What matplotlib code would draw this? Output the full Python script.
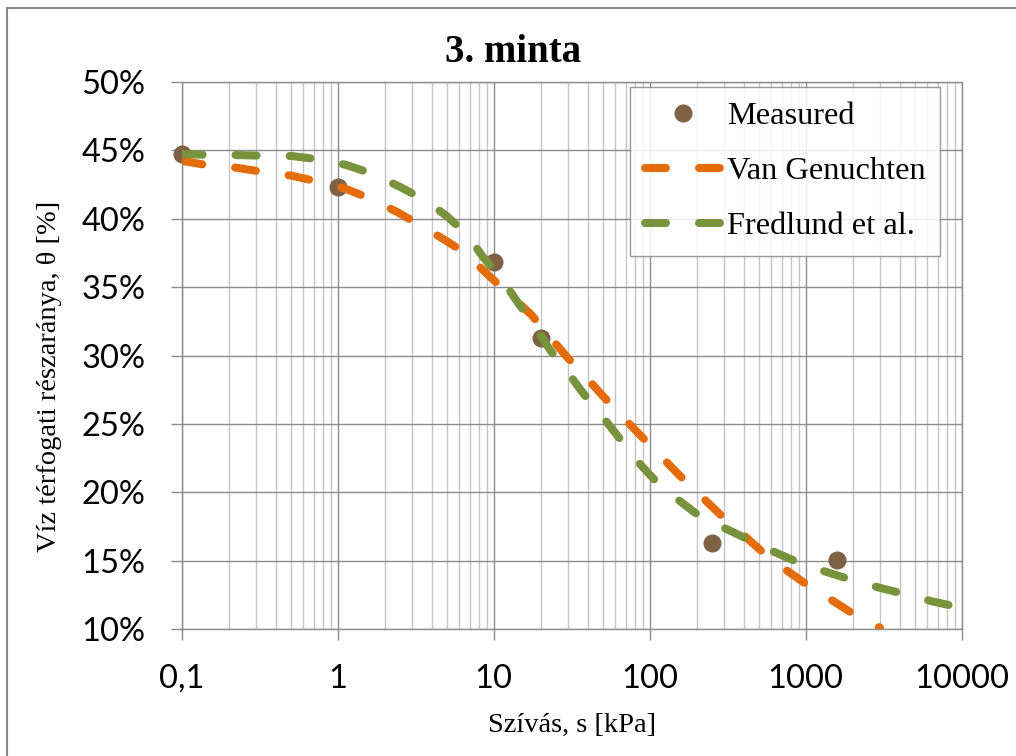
import matplotlib
matplotlib.use("Agg")
import matplotlib.pyplot as plt
from matplotlib.ticker import LogLocator, NullFormatter
from matplotlib.patches import Rectangle

# measured points
meas_s = [0.1, 1, 10, 20, 250, 1580]
meas_theta = [44.71, 42.34, 36.83, 31.27, 16.30, 15.08]

# Van Genuchten fit
vg_s = [0.1, 0.141, 0.225, 0.326, 0.507, 0.733, 1.11, 1.61, 2.39, 3.29, 4.88, 6.71,
        9.23, 12.4, 17.5, 21.9, 29.4, 37.5, 51.8, 66.2, 91, 116, 164, 210, 296, 389,
        548, 736, 1067, 1469, 2123, 2994]
vg_theta = [44.24, 43.95, 43.73, 43.44, 43.15, 42.74, 42.22, 41.48, 40.51, 39.61, 38.44,
            37.42, 35.88, 34.54, 32.96, 31.62, 29.91, 28.64, 26.86, 25.57, 23.94, 22.71,
            20.96, 19.79, 18.16, 16.99, 15.47, 14.37, 13.08, 12.11, 10.94, 10.09]

# Fredlund et al. fit
fr_s = [0.1, 0.141, 0.225, 0.333, 0.507, 0.75, 1.14, 1.69, 2.5, 3.53, 5.0, 6.71, 8.57,
        11.2, 14.4, 17.9, 23.0, 28.6, 37.5, 48, 63, 78.5, 108, 142, 205, 290, 428, 605,
        906, 1309, 1991, 2918, 4436, 6427, 10000]
fr_theta = [44.73, 44.68, 44.66, 44.61, 44.59, 44.35, 43.93, 43.27, 42.34, 41.44, 40.20,
            38.88, 37.18, 35.64, 33.81, 32.35, 30.39, 29.05, 27.23, 25.76, 24.05, 22.59,
            20.88, 19.71, 18.32, 17.47, 16.55, 15.72, 14.84, 14.23, 13.57, 13.04, 12.52,
            12.03, 11.54]

xticks = [0.1, 1, 10, 100, 1000, 10000]
xtick_labels = ["0,1", "1", "10", "100", "1000", "10000"]
yticks = [10, 15, 20, 25, 30, 35, 40, 45, 50]

SERIF = "Liberation Serif"
SANS = "Lato"
MAJ = "#8c8c8c"
MIN = "#c4c4c4"

fig = plt.figure(figsize=(10.16, 7.56), dpi=100)
ax = fig.add_axes([0.1788, 0.1680, 0.7678, 0.7235])

# chart border
fig.patches.append(Rectangle((7 / 1016, -0.01), 1.02, 1 - 8 / 756 + 0.01,
                             transform=fig.transFigure, fill=False,
                             edgecolor="#8a8a8a", lw=1.5))

lw = 5.8
ax.plot(meas_s, meas_theta, "o", color="#7f6245", ms=12, zorder=3, clip_on=False,
        label="Measured")
ax.plot(vg_s, vg_theta, color="#e46c0a", lw=lw, dashes=(2.6, 4.1),
        dash_capstyle="round", zorder=4, label="Van Genuchten")
ax.plot(fr_s, fr_theta, color="#77933c", lw=lw, dashes=(2.6, 4.1),
        dash_capstyle="round", zorder=4, label="Fredlund et al.")

ax.set_xscale("log")
ax.set_xlim(0.1, 10000)
ax.set_ylim(10, 50)
ax.set_xticks(xticks)
ax.set_xticklabels(xtick_labels)
ax.xaxis.set_minor_locator(LogLocator(base=10, subs=range(2, 10)))
ax.xaxis.set_minor_formatter(NullFormatter())
ax.set_yticks(yticks)
ax.set_yticklabels([f"{v}%" for v in yticks])

ax.grid(True, which="major", color=MAJ, lw=1.0, zorder=0)
ax.grid(True, which="minor", axis="x", color=MIN, lw=1.0, zorder=0)
ax.set_axisbelow(True)
for sp in ax.spines.values():
    sp.set_color(MAJ)
    sp.set_linewidth(1.0)

ax.tick_params(which="major", length=8, width=1.0, color=MAJ, labelsize=23.5)
ax.tick_params(axis="x", pad=17)
ax.tick_params(axis="y", pad=18)
ax.tick_params(which="minor", length=0)
for lab in ax.get_xticklabels() + ax.get_yticklabels():
    lab.set_family(SANS)

ax.set_xlabel("Szívás, s [kPa]", family=SERIF, fontsize=20.5)
ax.xaxis.set_label_coords(0.5, -0.153)
ax.set_ylabel("Víz térfogati részaránya, θ [%]", family=SERIF, fontsize=20.5)
ax.yaxis.set_label_coords(-0.153, 0.4625)

fig.text(513 / 1016, 1 - 52 / 756, "3. minta", ha="center", va="center",
         family=SERIF, fontsize=28, fontweight="bold")

leg = ax.legend(loc="upper left", bbox_to_anchor=(0.575, 0.991),
                prop={"family": SERIF, "size": 23.3}, handlelength=2.35,
                handletextpad=0.2, borderpad=0.45, labelspacing=0.78,
                borderaxespad=0, fancybox=False, framealpha=0.85)
leg.get_frame().set_edgecolor("#888888")
leg.get_frame().set_linewidth(1.0)

fig.savefig("out.png", dpi=100)
